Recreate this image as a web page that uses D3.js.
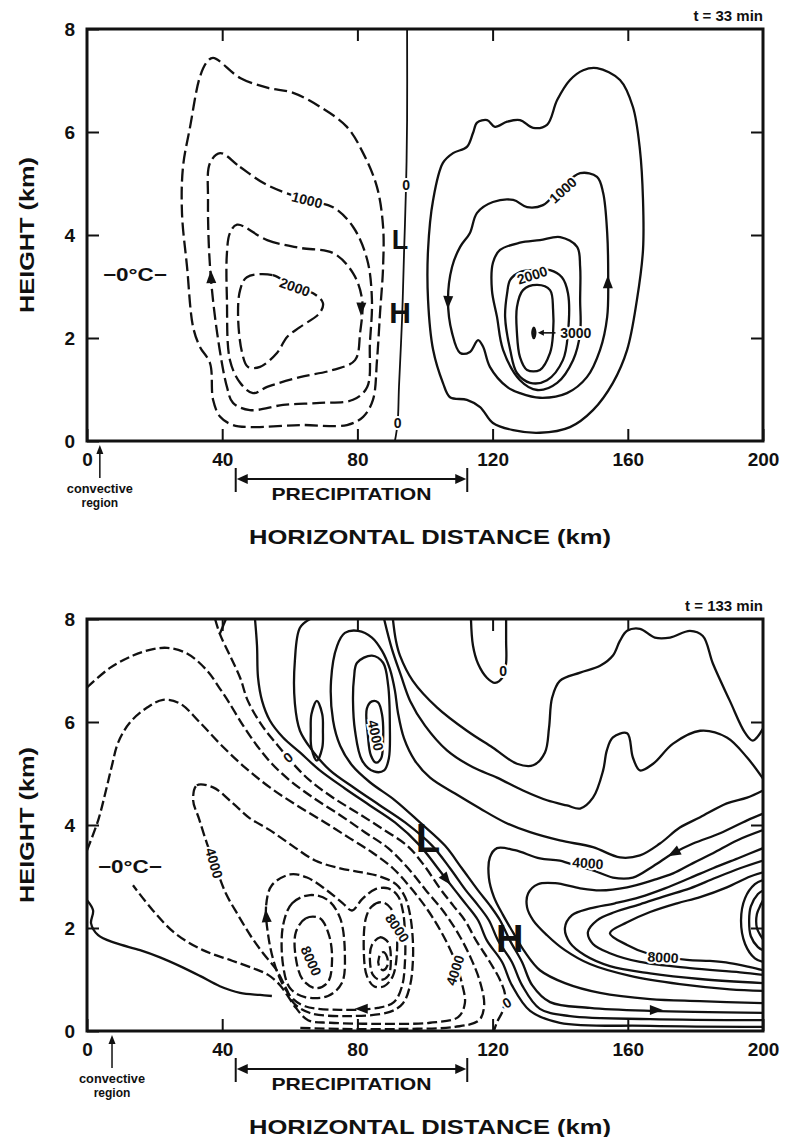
<!DOCTYPE html>
<html><head><meta charset="utf-8">
<script src="https://cdn.jsdelivr.net/npm/d3@7"></script>
<style>
body{margin:0;background:#fff;}
svg{display:block;}
</style></head><body>
<svg id="chart" width="788" height="1137"></svg>
<script>
// ---------- axis values ----------
const xTickValues = [0, 40, 80, 120, 160, 200];
const yTickValues = [0, 2, 4, 6, 8];
const innerXTicks = [40, 80, 120, 160];
const innerYTicks = [2, 4, 6];
const precipitationRange = [44, 112.5];   // km
const convectiveX = [3.8, 7.4];           // km, top / bottom panel
const panelTimes = ["t = 33 min", "t = 133 min"];

// ---------- TOP PANEL (t = 33 min) contours, [km, km] ----------
const top_neg500 = [[37.3,7.44],[45.3,7.05],[53.3,6.86],[61.0,6.76],[68.9,6.49],[76.9,6.10],[81.7,5.59],[85.8,4.93],[87.6,4.16],[87.6,3.38],[86.7,2.49],[85.8,1.57],[84.6,0.80],[81.7,0.47],[76.9,0.31],[63.0,0.31],[49.1,0.27],[43.2,0.31],[39.4,0.47],[37.3,0.80],[36.4,1.51],[33.4,1.83],[31.4,2.21],[29.6,3.38],[28.1,4.43],[28.4,5.32],[30.5,6.10],[33.4,7.07],[35.5,7.36]];
const top_neg1000 = [[39.4,5.59],[45.3,5.32],[53.3,4.97],[65.1,4.68],[72.8,4.54],[78.7,4.16],[82.9,3.52],[84.3,2.74],[83.7,1.90],[82.9,1.05],[78.7,0.80],[68.9,0.74],[58.0,0.70],[48.2,0.60],[43.2,0.74],[41.4,1.05],[38.5,2.10],[36.4,3.38],[35.8,4.68],[36.4,5.40]];
const top_neg1500 = [[44.4,4.20],[53.3,3.90],[63.0,3.75],[72.8,3.65],[78.7,3.26],[81.4,2.74],[80.8,2.10],[79.3,1.57],[72.8,1.38],[63.0,1.24],[53.3,1.05],[49.1,0.93],[45.3,1.13],[42.3,1.57],[41.4,2.74],[41.4,3.65],[42.3,4.04]];
const top_neg2000 = [[47.3,3.18],[55.0,3.22],[61.0,2.99],[66.9,2.87],[69.8,2.68],[68.9,2.49],[63.0,2.21],[59.2,2.02],[56.2,1.71],[51.2,1.44],[47.6,1.44],[45.9,1.71],[44.7,2.41],[45.3,2.93]];
const top_zero = [[94.7,8],[94.7,6.23],[94.4,4.97],[93.8,3.65],[93.2,2.35],[92.3,1.05],[91.9,0.35],[91.1,0]];
const top_pos500 = [[150.9,7.24],[157.7,7.01],[161.5,6.49],[163.6,5.65],[164.5,4.68],[164.5,3.71],[162.7,2.74],[159.8,1.77],[155.6,1.13],[149.7,0.60],[142.9,0.27],[134.0,0.16],[126.1,0.21],[120.1,0.35],[116.3,0.66],[112.4,0.80],[107.4,0.85],[105.3,1.13],[102.4,1.77],[100.9,2.74],[100.9,3.71],[102.4,4.68],[105.3,5.40],[108.3,5.59],[112.4,5.71],[114.2,5.98],[115.4,6.18],[118.4,6.23],[120.7,6.10],[124.3,6.20],[128.1,6.23],[132.0,6.08],[136.1,6.14],[139.1,6.62],[142.9,7.01],[146.8,7.20]];
const top_pos1000 = [[120.1,4.64],[126.1,4.68],[130.2,4.54],[134.9,4.58],[140.0,4.90],[145.9,5.20],[150.9,5.13],[152.7,4.82],[153.9,4.04],[154.2,3.18],[153.9,2.41],[151.8,1.77],[147.9,1.24],[142.0,0.93],[134.0,0.84],[128.1,0.93],[124.3,1.05],[119.2,1.44],[117.2,1.83],[115.7,1.96],[113.3,1.73],[110.4,1.71],[108.0,2.10],[106.8,2.74],[108.0,3.38],[110.4,3.77],[113.3,4.04],[115.4,4.43]];
const top_pos1500 = [[122.2,3.71],[128.1,3.85],[134.0,3.90],[140.0,3.96],[145.0,3.77],[145.9,3.38],[145.9,2.74],[145.9,2.10],[143.8,1.57],[139.1,1.13],[133.2,0.99],[128.1,1.18],[123.1,1.77],[121.3,2.41],[119.8,2.93],[120.1,3.46]];
const top_pos2000 = [[125.2,3.13],[128.1,3.28],[132.0,3.32],[137.0,3.32],[140.5,3.18],[142.3,2.87],[142.3,2.10],[140.8,1.57],[136.1,1.18],[131.1,1.13],[127.2,1.32],[125.2,1.77],[123.7,2.41],[124.3,2.87]];
const top_pos2500 = [[129.0,2.93],[133.2,3.03],[137.0,2.93],[137.9,2.54],[137.9,2.10],[137.0,1.71],[134.0,1.38],[130.2,1.38],[128.1,1.63],[127.2,2.10],[127.2,2.60]];
const top_pos3000 = [[131.8,2.10],[132.2,2.20],[132.6,2.10],[132.2,2.00]];

// ---------- BOTTOM PANEL (t = 133 min) contours, [km, km] ----------
const bot_topZero = [[113.6,8],[114.2,7.48],[115.7,7.13],[118.3,6.86],[120.7,6.76],[123.1,6.88],[124.0,7.15],[124.0,7.58],[124.0,8]];
const bot_upper1 = [[90.5,8],[91.4,7.58],[92.6,7.29],[96.4,6.80],[103.6,6.28],[112.4,5.83],[120.1,5.50],[127.2,5.19],[132.0,5.16],[135.5,5.41],[136.7,5.89],[137.6,6.47],[139.9,6.80],[145.9,6.96],[151.8,7.09],[155.6,7.29],[157.7,7.58],[159.8,7.77],[163.6,7.81],[168.0,7.64],[172.5,7.64],[178.4,7.77],[182.2,7.67],[185.2,7.13],[190.2,6.41],[194.7,5.79],[197.0,5.64],[200,5.87]];
const bot_upper2 = [[87.9,8],[90.2,7.42],[92.9,6.90],[95.6,6.41],[100.0,5.93],[106.5,5.45],[114.2,5.12],[121.3,4.92],[129.0,4.67],[136.1,4.48],[142.0,4.38],[145.9,4.32],[149.7,4.53],[152.7,5.06],[153.8,5.45],[155.6,5.70],[159.8,5.78],[161.5,5.31],[163.6,5.06],[167.5,5.19],[173.4,5.58],[181.4,5.83],[189.3,5.70],[195.3,5.31],[200,4.90]];
const bot_pos3000 = [[200,4.67],[195.3,4.53],[189.3,4.42],[181.4,4.15],[175.4,3.95],[169.5,3.64],[163.6,3.41],[157.7,3.37],[149.7,3.57],[139.9,3.70],[131.1,3.86],[123.7,4.05],[116.3,4.32],[108.9,4.61],[101.5,4.92],[97.0,5.25],[93.8,5.68],[92.0,6.18],[91.1,6.61],[89.6,7.03],[87.3,7.38],[84.3,7.64],[80.2,7.77],[76.3,7.73],[74.0,7.48],[72.2,6.80],[72.8,6.03],[74.9,5.54],[78.4,5.16],[83.7,4.83],[91.1,4.48],[98.5,4.05],[105.9,3.60],[110.9,3.16],[115.7,2.73],[119.2,2.44],[122.2,2.15],[125.1,1.76],[128.7,1.34],[131.7,0.89],[137.0,0.56],[148.8,0.45],[166.6,0.39],[200,0.35]];
const bot_pos2000 = [[66.0,8],[63.0,7.83],[61.5,7.19],[61.5,6.36],[63.0,5.83],[66.6,5.45],[71.9,5.06],[79.3,4.71],[86.7,4.38],[94.1,4.05],[102.1,3.60],[107.4,3.16],[112.1,2.73],[115.7,2.44],[118.9,2.15],[121.6,1.76],[125.7,1.34],[128.7,0.89],[134.0,0.43],[142.9,0.29],[166.6,0.23],[200,0.21]];
const bot_pos1000 = [[49.7,8],[50.3,7.48],[50.6,6.86],[51.8,6.41],[54.1,6.03],[58.0,5.70],[63.0,5.41],[68.9,5.06],[76.3,4.71],[83.7,4.38],[91.1,4.05],[98.5,3.60],[103.8,3.16],[108.9,2.73],[112.4,2.44],[115.7,2.15],[118.3,1.76],[122.8,1.34],[125.7,0.89],[131.1,0.39],[139.9,0.16],[166.6,0.10],[200,0.08]];
const bot_zero = [[37.9,8],[39.3,7.71],[42.3,7.29],[45.3,6.86],[47.6,6.41],[51.8,5.93],[56.5,5.54],[60.7,5.21],[66.0,4.86],[72.8,4.53],[79.9,4.24],[87.3,3.93],[94.7,3.60],[99.7,3.22],[104.4,2.77],[108.3,2.44],[111.8,2.15],[115.1,1.76],[119.2,1.34],[122.2,0.99],[123.7,0.70],[123.1,0.41],[121.3,0.17],[120.4,0]];
const bot_zeroStub = [[39.3,7.71],[41.1,8]];
const bot_neg1 = [[0,6.67],[6.8,7.05],[13.6,7.29],[18.6,7.40],[23.7,7.44],[29.6,7.33],[35.5,7.00],[39.3,6.65],[42.0,6.38],[46.2,5.93],[50.3,5.54],[54.7,5.19],[60.1,4.86],[66.9,4.53],[74.9,4.19],[82.2,3.86],[89.1,3.55],[95.0,3.16],[100.3,2.73],[105.6,2.31],[110.1,1.86],[113.6,1.41],[116.3,0.95],[117.5,0.50],[116.0,0.21],[108.9,0.08],[92.6,0.04],[74.9,0.04],[63.0,0.06]];
const bot_neg2 = [[0,3.51],[3.3,4.09],[5.6,4.67],[7.4,5.16],[9.2,5.60],[12.7,5.99],[17.8,6.28],[22.5,6.43],[27.5,6.36],[33.4,5.99],[39.9,5.54],[46.7,5.12],[54.1,4.73],[62.1,4.38],[70.4,4.05],[77.8,3.74],[84.3,3.47],[90.5,3.16],[95.9,2.77],[100.9,2.34],[105.0,1.90],[108.6,1.41],[110.9,0.93],[111.8,0.54],[109.8,0.27],[101.5,0.16],[86.7,0.14],[71.9,0.16],[65.4,0.21],[61.8,0.45],[59.2,0.70],[57.1,0.89],[53.6,1.09],[49.1,1.22],[42.3,1.38],[34.3,1.57],[26.0,1.90],[19.5,2.34],[13.6,2.83]];
const bot_neg4000 = [[31.4,4.48],[32.5,4.77],[37.3,4.73],[43.2,4.42],[48.2,4.13],[54.1,3.90],[60.7,3.60],[67.5,3.31],[74.9,3.16],[81.4,3.08],[86.7,3.00],[91.4,2.85],[94.1,2.60],[95.6,2.25],[96.4,1.76],[96.4,1.34],[95.6,0.89],[93.5,0.54],[89.6,0.37],[77.8,0.29],[66.0,0.35],[61.2,0.54],[58.9,0.83],[55.9,1.20],[52.1,1.51],[48.5,1.84],[44.7,2.25],[41.1,2.67],[38.2,3.16],[35.5,3.64],[33.1,4.13]];
const bot_neg5000 = [[53.6,1.86],[53.0,2.44],[54.7,2.83],[60.1,3.04],[65.1,2.98],[71.0,2.73],[75.7,2.48],[78.4,2.34],[81.4,2.56],[85.2,2.75],[89.1,2.77],[92.0,2.62],[93.5,2.31],[94.1,1.86],[94.1,1.38],[93.2,0.87],[90.8,0.56],[86.1,0.45],[74.9,0.41],[64.5,0.48],[60.7,0.64],[57.7,0.93],[55.3,1.34]];
const bot_negA7000 = [[58.0,2.05],[60.7,2.48],[66.0,2.64],[71.3,2.54],[74.9,2.19],[76.3,1.47],[75.4,0.93],[71.3,0.68],[64.5,0.66],[60.1,0.83],[58.0,1.28]];
const bot_negA8000 = [[61.8,1.92],[64.8,2.19],[68.9,2.19],[71.6,1.86],[72.5,1.38],[71.3,0.95],[67.8,0.83],[63.9,0.99],[61.8,1.41]];
const bot_negB8000 = [[82.5,2.19],[84.3,2.42],[87.3,2.50],[89.9,2.38],[91.4,2.05],[91.7,1.53],[90.5,1.07],[87.9,0.87],[84.9,0.87],[82.8,1.07],[81.9,1.53]];
const bot_negB9000 = [[84.3,1.67],[86.7,1.82],[89.1,1.72],[89.9,1.38],[89.1,1.07],[86.7,0.99],[84.6,1.09],[83.7,1.38]];
const bot_negB10000 = [[86.4,1.43],[87.6,1.53],[88.8,1.43],[88.8,1.26],[87.6,1.18],[86.4,1.26]];
const bot_pos4000 = [[200,4.22],[195.3,4.09],[187.3,3.84],[179.3,3.64],[173.4,3.45],[167.5,3.20],[161.5,2.98],[155.6,2.98],[149.7,3.12],[145.9,3.18],[139.9,3.31],[134.0,3.35],[126.6,3.51],[121.3,3.55],[119.2,3.37],[118.9,2.98],[120.4,2.60],[123.1,2.25],[126.0,1.92],[129.6,1.53],[134.0,1.18],[141.4,0.93],[151.8,0.74],[166.6,0.62],[181.4,0.58],[200,0.54]];
const bot_pos5000 = [[200,3.90],[192.3,3.70],[185.2,3.45],[179.3,3.26],[173.4,3.06],[167.5,2.93],[159.8,2.79],[151.8,2.73],[145.9,2.77],[138.5,2.87],[133.4,2.85],[130.5,2.67],[130.2,2.40],[132.0,2.15],[136.1,1.86],[141.4,1.57],[148.8,1.30],[160.7,1.07],[175.4,0.91],[190.2,0.81],[200,0.78]];
const bot_pos6000 = [[200,3.55],[193.2,3.37],[185.2,3.16],[178.4,2.97],[171.0,2.77],[163.6,2.60],[156.2,2.48],[148.8,2.38],[143.5,2.25],[141.4,2.00],[142.9,1.71],[147.3,1.47],[154.7,1.26],[166.6,1.12],[181.4,1.01],[200,0.93]];
const bot_pos7000 = [[200,3.31],[193.2,3.16],[185.8,2.97],[178.4,2.77],[171.0,2.62],[163.6,2.46],[156.2,2.31],[150.9,2.15],[148.2,1.92],[149.7,1.69],[154.7,1.51],[163.6,1.34],[178.4,1.22],[193.2,1.14],[200,1.09]];
const bot_pos8000 = [[200,3.08],[196.2,3.00],[189.3,2.79],[181.4,2.60],[174.6,2.48],[166.6,2.31],[159.8,2.11],[154.7,1.90],[159.8,1.67],[165.7,1.51],[177.5,1.38],[184.3,1.36],[190.2,1.32],[196.2,1.24],[200,1.18]];
const bot_pos9000 = [[200,2.93],[197.6,2.85],[194.7,2.58],[193.5,2.15],[194.7,1.69],[197.6,1.41],[200,1.34]];
const bot_pos10000 = [[200,2.73],[198.5,2.66],[196.4,2.42],[195.9,2.15],[196.4,1.84],[198.5,1.63],[200,1.57]];
const bot_pos11000 = [[200,2.54],[199.4,2.46],[198.2,2.27],[198.2,2.00],[199.4,1.84],[200,1.78]];
const bot_maxLoop4000 = [[82.8,6.26],[84.3,6.40],[86.1,6.38],[87.3,6.14],[87.6,5.64],[87.0,5.29],[85.5,5.21],[84.0,5.35],[83.1,5.74]];
const bot_maxLoop3000 = [[79.9,7.15],[84.3,7.29],[87.6,7.15],[89.1,6.71],[89.6,5.93],[89.3,5.29],[87.9,5.06],[84.9,5.04],[81.4,5.25],[79.3,5.83],[78.7,6.41],[79.0,6.86]];
const bot_smallCell = [[68.0,6.41],[69.6,6.15],[69.8,5.83],[69.6,5.50],[68.0,5.25],[66.4,5.50],[66.2,5.83],[66.4,6.15]];
const bot_lowLeft = [[0,2.54],[1.8,2.34],[1.2,2.09],[3.3,1.86],[8.3,1.71],[15.7,1.57],[21.6,1.43],[27.5,1.26],[33.4,1.07],[39.3,0.87],[45.3,0.74],[51.2,0.70],[54.7,0.68]];

// ---------- annotations (text, km, km) ----------
const topLabels = [
  {t:"1000", x:65.1, z:4.68, a:14}, {t:"2000", x:61.5, z:2.99, a:20},
  {t:"0", x:94.4, z:4.97, a:0}, {t:"0", x:91.9, z:0.35, a:0},
  {t:"1000", x:140.8, z:4.87, a:-42}, {t:"2000", x:131.7, z:3.22, a:-18},
  {t:"3000", x:144.6, z:2.10, a:0}
];
const botLabels = [
  {t:"0", x:59.5, z:5.31, a:-40}, {t:"0", x:123.1, z:7.0, a:0}, {t:"0", x:124.2, z:0.55, a:-30},
  {t:"4000", x:85.4, z:5.74, a:78}, {t:"4000", x:37.6, z:3.26, a:74},
  {t:"8000", x:66.3, z:1.36, a:66}, {t:"8000", x:91.8, z:2.0, a:56},
  {t:"4000", x:108.9, z:1.18, a:-72}, {t:"4000", x:148.2, z:3.26, a:4},
  {t:"8000", x:170.4, z:1.43, a:3}
];
const topArrows = [{x:36.7,z:3.2,a:-92},{x:81.1,z:2.55,a:92},{x:106.8,z:2.68,a:92},{x:154.1,z:3.1,a:-90}];
const botArrows = [{x:106.5,z:2.93,a:52},{x:53.0,z:2.25,a:-95},{x:173.4,z:3.45,a:152},{x:168.6,z:0.41,a:0},{x:81.0,z:0.43,a:180}];
const topLetters = [{t:"L", x:92.6, z:3.9, s:27},{t:"H", x:92.6, z:2.5, s:30}];
const botLetters = [{t:"L", x:100.9, z:3.74, s:40},{t:"H", x:125.1, z:1.78, s:38}];
const freezingLabel = [{x:14.2, z:3.22},{x:12.7, z:3.18}];

// ---------- drawing ----------
const svg = d3.select('#chart');
const INK = '#111';
const FONT = '"Liberation Sans", Arial, Helvetica, sans-serif';
const X = d3.scaleLinear().domain([0,200]).range([87,763]);

const DASH_T = '13,5', DASH_B = '10,4';
const panels = [
  { id:'t', y0:441, y8:29, time:panelTimes[0], conv:convectiveX[0],
    lines:[
      {p:top_neg500, d:DASH_T, c:true},{p:top_neg1000, d:DASH_T, c:true},{p:top_neg1500, d:DASH_T, c:true},{p:top_neg2000, d:DASH_T, c:true},
      {p:top_zero, w:1.8},
      {p:top_pos500, c:true},{p:top_pos1000, c:true},{p:top_pos1500, c:true},{p:top_pos2000, c:true},{p:top_pos2500, c:true},{p:top_pos3000, c:true, w:2.6}
    ],
    labels:topLabels, arrows:topArrows, letters:topLetters, frz:freezingLabel[0], pointer:true },
  { id:'b', y0:1031, y8:619, time:panelTimes[1], conv:convectiveX[1],
    lines:[
      {p:bot_topZero},{p:bot_upper1},{p:bot_upper2},{p:bot_pos3000},{p:bot_pos2000},{p:bot_pos1000},
      {p:bot_zero, d:DASH_B},{p:bot_zeroStub},
      {p:bot_neg1, d:DASH_B},{p:bot_neg2, d:DASH_B},{p:bot_neg4000, d:DASH_B, c:true},{p:bot_neg5000, d:DASH_B, c:true},
      {p:bot_negA7000, d:DASH_B, c:true},{p:bot_negA8000, d:DASH_B, c:true},
      {p:bot_negB8000, d:DASH_B, c:true},{p:bot_negB9000, d:DASH_B, c:true},{p:bot_negB10000, d:DASH_B, c:true},
      {p:bot_pos4000},{p:bot_pos5000},{p:bot_pos6000},{p:bot_pos7000},{p:bot_pos8000},
      {p:bot_pos9000},{p:bot_pos10000},{p:bot_pos11000},
      {p:bot_maxLoop4000, c:true},{p:bot_maxLoop3000, c:true},{p:bot_smallCell, c:true},
      {p:bot_lowLeft}
    ],
    labels:botLabels, arrows:botArrows, letters:botLetters, frz:freezingLabel[1], pointer:false }
];

const defs = svg.append('defs');

panels.forEach(P => {
  const Y = d3.scaleLinear().domain([0,8]).range([P.y0, P.y8]);
  const g = svg.append('g');
  defs.append('clipPath').attr('id','clip'+P.id).append('rect')
    .attr('x',X(0)).attr('y',Y(8)).attr('width',X(200)-X(0)).attr('height',Y(0)-Y(8));
  const cg = g.append('g').attr('clip-path',`url(#clip${P.id})`);

  P.lines.forEach(L => {
    const gen = d3.line().x(d=>X(d[0])).y(d=>Y(d[1]))
      .curve(L.c ? d3.curveCatmullRomClosed.alpha(0.5) : d3.curveCatmullRom.alpha(0.5));
    cg.append('path').attr('d', gen(L.p)).attr('fill','none').attr('stroke',INK)
      .attr('stroke-width', L.w || 2.3).attr('stroke-dasharray', L.d || null)
      .attr('stroke-linejoin','round');
  });

  // arrowheads
  P.arrows.forEach(a => {
    cg.append('path').attr('d','M6,0L-7,-5L-7,5Z').attr('fill',INK)
      .attr('transform',`translate(${X(a.x)},${Y(a.z)}) rotate(${a.a})`);
  });

  // contour labels
  P.labels.forEach(l => {
    g.append('text').text(l.t)
      .attr('transform',`translate(${X(l.x)},${Y(l.z)}) rotate(${l.a})`)
      .attr('text-anchor','middle').attr('dominant-baseline','central')
      .attr('font-family',FONT).attr('font-weight','bold').attr('font-size',14)
      .attr('fill',INK).attr('stroke','#fff').attr('stroke-width',4).attr('paint-order','stroke');
  });

  if (P.pointer) {
    // 3000 pointer arrow in top panel
    const yy = Y(2.10);
    g.append('line').attr('x1',X(138.6)).attr('x2',X(134.4)).attr('y1',yy).attr('y2',yy)
      .attr('stroke',INK).attr('stroke-width',1.6);
    g.append('path').attr('d','M0,0L6,-3L6,3Z').attr('fill',INK)
      .attr('transform',`translate(${X(133.4)},${yy})`);
  }

  // L / H letters
  P.letters.forEach(l => {
    g.append('text').text(l.t).attr('x',X(l.x)).attr('y',Y(l.z))
      .attr('text-anchor','middle').attr('dominant-baseline','central')
      .attr('font-family',FONT).attr('font-weight','bold').attr('font-size',l.s).attr('fill',INK);
  });

  // -0°C- label
  g.append('text').text('\u22120\u00B0C\u2212').attr('x',X(P.frz.x)).attr('y',Y(P.frz.z))
    .attr('text-anchor','middle').attr('dominant-baseline','central')
    .attr('font-family',FONT).attr('font-weight','bold').attr('font-size',18).attr('fill',INK)
    .attr('textLength',64).attr('lengthAdjust','spacingAndGlyphs')
    .attr('stroke','#fff').attr('stroke-width',3).attr('paint-order','stroke');

  // axes
  const styleAxis = (sel) => {
    sel.select('.domain').remove();
    sel.selectAll('.tick line').attr('stroke',INK).attr('stroke-width',2);
    sel.selectAll('.tick text').attr('font-family',FONT).attr('font-weight','bold')
      .attr('font-size',19).attr('fill',INK);
  };
  g.append('g').attr('transform',`translate(0,${Y(0)})`)
    .call(d3.axisBottom(X).tickValues(xTickValues).tickSize(-12).tickPadding(12).tickFormat(d3.format('d')))
    .call(styleAxis);
  g.append('g').attr('transform',`translate(0,${Y(8)})`)
    .call(d3.axisTop(X).tickValues(innerXTicks).tickSize(-12).tickFormat(()=>''))
    .call(styleAxis);
  g.append('g').attr('transform',`translate(${X(0)},0)`)
    .call(d3.axisLeft(Y).tickValues(yTickValues).tickSize(-12).tickPadding(12).tickFormat(d3.format('d')))
    .call(styleAxis);
  g.append('g').attr('transform',`translate(${X(200)},0)`)
    .call(d3.axisRight(Y).tickValues(innerYTicks).tickSize(-12).tickFormat(()=>''))
    .call(styleAxis);

  // frame
  g.append('rect').attr('x',X(0)).attr('y',Y(8)).attr('width',X(200)-X(0)).attr('height',Y(0)-Y(8))
    .attr('fill','none').attr('stroke',INK).attr('stroke-width',3);

  // time stamp
  g.append('text').text(P.time).attr('x',X(200)).attr('y',Y(8)-8)
    .attr('text-anchor','end').attr('font-family',FONT).attr('font-weight','bold')
    .attr('font-size',15).attr('fill',INK);

  // y-axis title
  g.append('text').text('HEIGHT (km)')
    .attr('transform',`translate(26,${(Y(0)+Y(8))/2}) rotate(-90)`)
    .attr('text-anchor','middle').attr('dominant-baseline','central')
    .attr('font-family',FONT).attr('font-weight','bold').attr('font-size',21).attr('fill',INK)
    .attr('textLength',156).attr('lengthAdjust','spacingAndGlyphs');

  const base = Y(0);
  // precipitation bracket
  const bx0 = X(precipitationRange[0]), bx1 = X(precipitationRange[1]);
  g.append('line').attr('x1',bx0).attr('x2',bx0).attr('y1',base+27).attr('y2',base+51).attr('stroke',INK).attr('stroke-width',2);
  g.append('line').attr('x1',bx1).attr('x2',bx1).attr('y1',base+27).attr('y2',base+51).attr('stroke',INK).attr('stroke-width',2);
  g.append('line').attr('x1',bx0+8).attr('x2',bx1-8).attr('y1',base+38).attr('y2',base+38).attr('stroke',INK).attr('stroke-width',2);
  g.append('path').attr('d',`M${bx0+1},${base+38}L${bx0+12},${base+33}L${bx0+12},${base+43}Z`).attr('fill',INK);
  g.append('path').attr('d',`M${bx1-1},${base+38}L${bx1-12},${base+33}L${bx1-12},${base+43}Z`).attr('fill',INK);
  g.append('text').text('PRECIPITATION').attr('x',(bx0+bx1)/2).attr('y',base+53)
    .attr('text-anchor','middle').attr('dominant-baseline','central')
    .attr('font-family',FONT).attr('font-weight','bold').attr('font-size',17).attr('fill',INK)
    .attr('textLength',160).attr('lengthAdjust','spacingAndGlyphs');

  // convective region pointer
  const cx = X(P.conv);
  g.append('line').attr('x1',cx).attr('x2',cx).attr('y1',base+10).attr('y2',base+37).attr('stroke',INK).attr('stroke-width',1.5);
  g.append('path').attr('d',`M${cx},${base+4}L${cx-3.5},${base+13}L${cx+3.5},${base+13}Z`).attr('fill',INK);
  g.append('text').text('convective').attr('x',cx).attr('y',base+48)
    .attr('text-anchor','middle').attr('dominant-baseline','central')
    .attr('font-family',FONT).attr('font-weight','bold').attr('font-size',12).attr('fill',INK)
    .attr('textLength',66).attr('lengthAdjust','spacingAndGlyphs');
  g.append('text').text('region').attr('x',cx).attr('y',base+62)
    .attr('text-anchor','middle').attr('dominant-baseline','central')
    .attr('font-family',FONT).attr('font-weight','bold').attr('font-size',12).attr('fill',INK);

  // x-axis title
  g.append('text').text('HORIZONTAL DISTANCE (km)').attr('x',430).attr('y',base+95)
    .attr('text-anchor','middle').attr('dominant-baseline','central')
    .attr('font-family',FONT).attr('font-weight','bold').attr('font-size',21).attr('fill',INK)
    .attr('textLength',362).attr('lengthAdjust','spacingAndGlyphs');
});
</script>
</body></html>
